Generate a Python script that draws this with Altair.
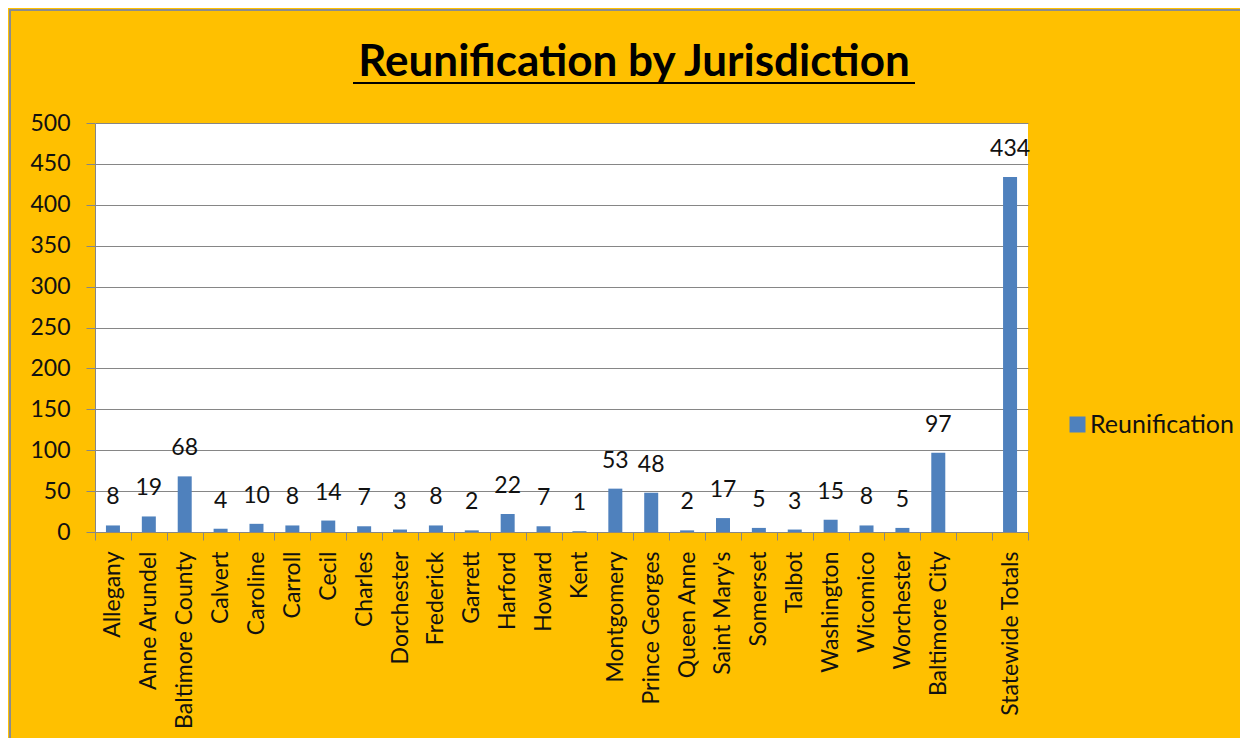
import altair as alt
import pandas as pd

categories = ["Allegany", "Anne Arundel", "Baltimore County", "Calvert", "Caroline",
              "Carroll", "Cecil", "Charles", "Dorchester", "Frederick", "Garrett",
              "Harford", "Howard", "Kent", "Montgomery", "Prince Georges", "Queen Anne",
              "Saint Mary's", "Somerset", "Talbot", "Washington", "Wicomico",
              "Worchester", "Baltimore City", " ", "Statewide Totals"]
values = [8, 19, 68, 4, 10, 8, 14, 7, 3, 8, 2, 22, 7, 1, 53, 48, 2, 17, 5, 3, 15,
          8, 5, 97, None, 434]
series_name = "Reunification"
title_text = "Reunification by Jurisdiction"
y_ticks = [0, 50, 100, 150, 200, 250, 300, 350, 400, 450, 500]

df = pd.DataFrame({"Jurisdiction": categories, "Value": values,
                   "Series": [series_name] * len(categories)})

FONT = "Lato"
W, H = 933, 409

x_enc = alt.X("Jurisdiction:N", sort=categories,
              scale=alt.Scale(domain=categories, paddingInner=0, paddingOuter=0),
              axis=alt.Axis(title=None, labelAngle=-90, labelAlign="right",
                            labelBaseline="middle", labelFont=FONT, labelFontSize=23,
                            labelColor="#111111", labelPadding=11, labelLimit=400,
                            tickSize=8, tickBand="extent", tickColor="#868686",
                            domainColor="#868686", grid=False, labelOverlap=False))
y_enc = alt.Y("Value:Q", scale=alt.Scale(domain=[0, 500], nice=False),
              axis=alt.Axis(title=None, values=y_ticks, labelFont=FONT,
                            labelFontSize=23, labelColor="#111111", labelPadding=16,
                            tickSize=9, tickColor="#868686", domainColor="#868686",
                            gridColor="#868686", gridWidth=1))

bars = alt.Chart(df).mark_bar(size=14).encode(
    x=x_enc, y=y_enc,
    color=alt.Color("Series:N", scale=alt.Scale(range=["#4F81BD"]),
                    legend=alt.Legend(title=None, orient="none", legendX=970,
                                      legendY=289, symbolType="square",
                                      symbolSize=256, symbolStrokeWidth=0,
                                      labelFont=FONT, labelFontSize=25,
                                      labelColor="#111111", labelOffset=0))
)

labels = alt.Chart(df).mark_text(font=FONT, fontSize=23, color="#111111",
                                 baseline="alphabetic", dy=-21).encode(
    x=alt.X("Jurisdiction:N", sort=categories), y="Value:Q",
    text=alt.Text("Value:Q", format="d")
)

title_df = pd.DataFrame({"t": [title_text]})
title = alt.Chart(title_df).mark_text(font=FONT, fontSize=44, fontWeight="bold",
                                      color="black", align="center",
                                      baseline="alphabetic").encode(
    x=alt.value(539), y=alt.value(-47), text="t:N"
)

underline = alt.Chart(title_df).mark_rule(color="black", strokeWidth=2).encode(
    x=alt.value(258), x2=alt.value(820), y=alt.value(-40)
)

frame_left = alt.Chart(title_df).mark_rule(color="#8c8c8c", strokeWidth=2).encode(
    x=alt.value(-85), y=alt.value(-114), y2=alt.value(640)
)
frame_top = alt.Chart(title_df).mark_rule(color="#8c8c8c", strokeWidth=2).encode(
    x=alt.value(-86), x2=alt.value(1160), y=alt.value(-113)
)

chart = alt.layer(bars, labels, title, underline, frame_left, frame_top).properties(
    width=W, height=H,
    background="#FFC000",
    padding={"left": 87, "top": 115, "right": 212, "bottom": 206},
    autosize=alt.AutoSizeParams(type="none"),
).configure_view(fill="white", stroke=None)

chart.save("out.html", embed_options={"renderer": "svg", "actions": False})
